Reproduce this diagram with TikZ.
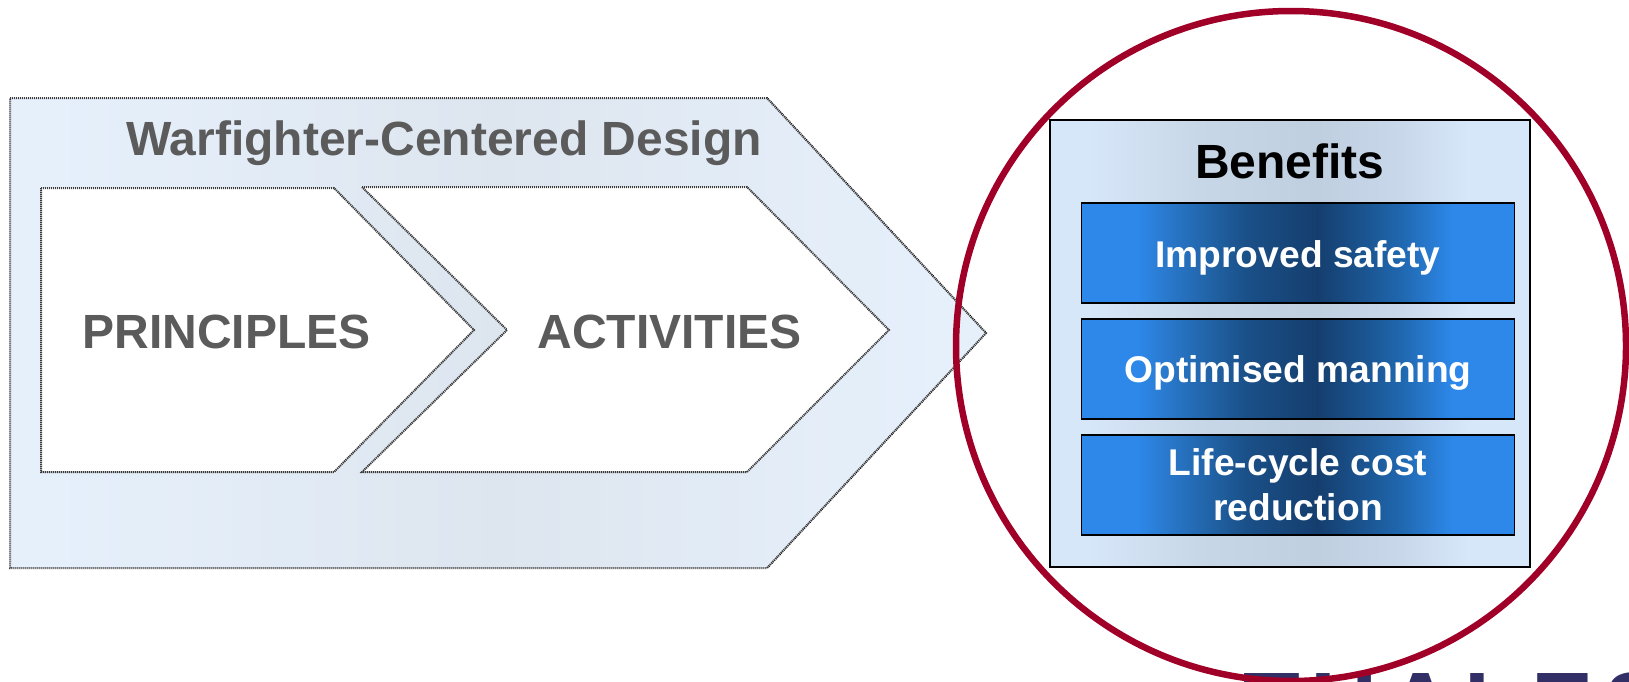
\documentclass[tikz,border=0pt]{standalone}
\usepackage{fontspec}
\setmainfont{Liberation Sans}
\usetikzlibrary{shadings,patterns}
\definecolor{pa}{HTML}{D7E7FA}
\definecolor{pb}{HTML}{CFDFF0}
\definecolor{pc}{HTML}{C7D7E8}
\definecolor{pd}{HTML}{BFCFE0}
\definecolor{pe}{HTML}{C8D8EA}
\definecolor{ba}{HTML}{2D88EA}
\definecolor{bb}{HTML}{2A7ACF}
\definecolor{bc}{HTML}{2163A6}
\definecolor{bd}{HTML}{1A5088}
\definecolor{be}{HTML}{153E6E}
\definecolor{bf}{HTML}{1B5693}
\definecolor{bg}{HTML}{2068B0}
\definecolor{oa}{HTML}{DFECFB}
\definecolor{ob}{HTML}{D4DFEB}
\definecolor{ringred}{HTML}{A00028}
\definecolor{logonavy}{HTML}{322F66}
\definecolor{stipple}{HTML}{2A2A2A}
\pgfdeclarehorizontalshading{panelshade}{100bp}{color(0bp)=(pa); color(29bp)=(pa); color(35bp)=(pb); color(40.5bp)=(pc); color(52.8bp)=(pd); color(61.5bp)=(pe); color(68.5bp)=(pa); color(100bp)=(pa)}
\pgfdeclarehorizontalshading{blueshade}{100bp}{color(0bp)=(ba); color(31.5bp)=(ba); color(34.5bp)=(bb); color(39.8bp)=(bc); color(44bp)=(bd); color(52.2bp)=(be); color(58bp)=(bf); color(62bp)=(bg); color(67.8bp)=(ba); color(100bp)=(ba)}
\pgfdeclarehorizontalshading{palechev}{100bp}{color(0bp)=(oa); color(27bp)=(oa); color(50bp)=(ob); color(73bp)=(oa); color(100bp)=(oa)}
\pgfdeclarepatternformonly{whitedots}{\pgfqpoint{-1pt}{-1pt}}{\pgfqpoint{1pt}{1pt}}{\pgfqpoint{2pt}{2pt}}{\pgfpathcircle{\pgfpointorigin}{0.65pt}\pgfusepath{fill}}
\tikzset{
  chevron/.style={draw=black,line width=2pt,dash pattern=on 1.2pt off 0.8pt},
  stiptext/.style={text=stipple,font=\bfseries\fontsize{48}{48}\selectfont,inner sep=0pt},
  benefit/.style={draw=black,line width=1.8pt,shading=blueshade,minimum width=433pt,minimum height=100pt,inner sep=0pt,align=center,text=white,font=\bfseries\fontsize{37.2}{45}\selectfont},
  panel/.style={draw=black,line width=2pt,shading=panelshade,minimum width=480pt,minimum height=447.5pt,inner sep=0pt},
}
\begin{document}
\begin{tikzpicture}[x=1pt,y=-1pt]
\useasboundingbox (0,0) rectangle (1629,681);
\clip (0,0) rectangle (1629,681);
\fill[white] (0,0) rectangle (1629,681);
% outer chevron
\path[chevron,shading=palechev] (10,98) -- (767,98) -- (986,333) -- (767,568) -- (10,568) -- cycle;
% inner chevrons
\path[chevron,fill=white] (41,188) -- (334,188) -- (474,330) -- (334,472) -- (41,472) -- cycle;
\path[chevron,fill=white] (362,187) -- (747,187) -- (889,330) -- (747,472) -- (362,472) -- (507,330) -- cycle;
\node[stiptext,anchor=base] (wcd) at (444,155) {Warfighter-Centered Design};
\node[stiptext,anchor=base] (prin) at (226.5,348) {PRINCIPLES};
\node[stiptext,anchor=base] (act) at (669.6,348) {ACTIVITIES};
% stipple over the faded chevron
\fill[pattern=whitedots,pattern color=white] (9,97) -- (767,97) -- (987,333) -- (767,569) -- (9,569) -- cycle;
% logo
\node[anchor=base west,inner sep=0pt,text=logonavy,font=\bfseries\fontsize{93}{93}\selectfont\addfontfeature{LetterSpace=11}] (logo) at (1243,737) {THALES};
% ring
\node[circle,draw=ringred,line width=6.5pt,minimum size=670pt,inner sep=0pt] (ring) at (1291,346) {};
% benefits
\node[panel] (panel) at (1289.75,343.3) {};
\node[anchor=base,inner sep=0pt,font=\bfseries\fontsize{48}{48}\selectfont] (ben) at (1289.75,178) {Benefits};
\node[benefit] (b1) at (1298,252.7) {\raisebox{-15pt}[0pt][0pt]{Improved safety}};
\node[benefit] (b2) at (1298,368.8) {\raisebox{-13.5pt}[0pt][0pt]{Optimised manning}};
\node[benefit] (b3) at (1298,485) {Life-cycle cost\\reduction};
\end{tikzpicture}
\end{document}
